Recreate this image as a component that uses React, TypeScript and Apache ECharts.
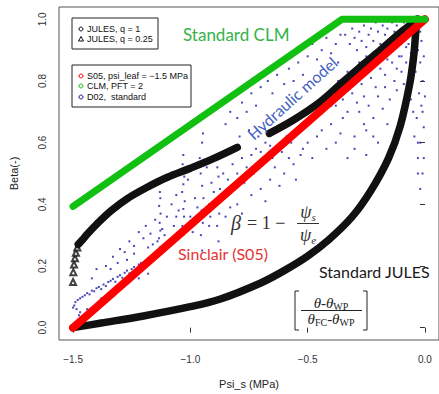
import React, { useEffect, useRef } from "react";
import * as echarts from "echarts";

// ---- axis ticks ----
const xTickValues = [-1.5, -1.0, -0.5, 0.0];
const xTickLabels = ["\u22121.5", "\u22121.0", "\u22120.5", "0.0"];
const yTickValues = [0, 0.2, 0.4, 0.6, 0.8, 1.0];
const yTickLabels = ["0.0", "0.2", "0.4", "0.6", "0.8", "1.0"];

// ---- series (Psi_s in MPa, Beta) ----
const julesQ1 = [
  [-1.5, 0], [-1.38, 0.015], [-1.2, 0.038], [-1.0, 0.068], [-0.875, 0.092],
  [-0.7, 0.145], [-0.6, 0.185], [-0.5, 0.232], [-0.41, 0.285], [-0.31, 0.36], [-0.23, 0.445],
  [-0.155, 0.55], [-0.105, 0.655], [-0.065, 0.79], [-0.048, 0.88], [-0.04, 0.95], [-0.035, 1.0],
];
const julesQ025 = [
  [-1.478, 0.27], [-1.46, 0.285], [-1.44, 0.303], [-1.4, 0.335], [-1.34, 0.378], [-1.27, 0.418], [-1.18, 0.457],
  [-1.1, 0.487], [-1.0, 0.517], [-0.9, 0.549], [-0.8, 0.585], [-0.73, null],
  [-0.663, 0.63], [-0.557, 0.675], [-0.45, 0.73], [-0.36, 0.79], [-0.275, 0.846],
  [-0.19, 0.9], [-0.107, 0.955], [-0.03, 1.0],
];
const julesQ025Start = [
  [-1.5, 0.148], [-1.499, 0.18], [-1.496, 0.205], [-1.492, 0.225], [-1.488, 0.243], [-1.482, 0.26],
];
const s05 = [[-1.5, 0], [0, 1]];
const clm = [[-1.5, 0.393], [-0.354, 1.0], [0, 1.0]];
const d02 = [
  [-1.5, 0.065], [-1.495, 0.072], [-1.49, 0.083], [-1.485, 0.06], [-1.48, 0.09], [-1.475, 0.04], [-1.47, 0.095],
  [-1.465, 0.025], [-1.46, 0.1], [-1.45, 0.105], [-1.44, 0.112], [-1.43, 0.108], [-1.42, 0.12], [-1.41, 0.118],
  [-1.4, 0.128], [-1.39, 0.132], [-1.38, 0.125], [-1.37, 0.14], [-1.36, 0.135], [-1.35, 0.148], [-1.34, 0.152],
  [-1.33, 0.158], [-1.32, 0.149], [-1.31, 0.165], [-1.3, 0.17], [-1.29, 0.162], [-1.28, 0.178], [-1.27, 0.185],
  [-1.26, 0.176], [-1.25, 0.19], [-1.24, 0.197], [-1.23, 0.188], [-1.22, 0.205], [-1.21, 0.21], [-1.2, 0.2],
  [-1.19, 0.218], [-1.18, 0.225], [-1.17, 0.215], [-1.16, 0.23], [-1.15, 0.238],
  [-1.47, 0.05], [-1.455, 0.035], [-1.44, 0.06], [-1.38, 0.095], [-1.33, 0.115], [-1.3, 0.13], [-1.26, 0.15],
  [-1.22, 0.16], [-1.18, 0.175],
  [-1.33, 0.23], [-1.3, 0.255], [-1.28, 0.245], [-1.26, 0.28], [-1.24, 0.265], [-1.22, 0.31], [-1.2, 0.29],
  [-1.19, 0.33], [-1.17, 0.305], [-1.15, 0.35], [-1.14, 0.28], [-1.12, 0.32], [-1.1, 0.36], [-1.09, 0.27], [-1.08, 0.4],
  [-1.13, 0.26], [-1.134, 0.29], [-1.128, 0.315], [-1.131, 0.34], [-1.127, 0.37], [-1.133, 0.395], [-1.128, 0.42], [-1.13, 0.44],
  [-1.03, 0.3], [-1.034, 0.33], [-1.027, 0.36], [-1.03, 0.385], [-1.024, 0.41], [-1.035, 0.44], [-1.03, 0.465],
  [-1.026, 0.49], [-1.033, 0.53], [-1.03, 0.56],
  [-0.95, 0.25], [-0.955, 0.3], [-0.947, 0.34], [-0.952, 0.38], [-0.944, 0.42], [-0.95, 0.46], [-0.956, 0.5], [-0.95, 0.6], [-0.946, 0.63],
  [-0.88, 0.28], [-0.886, 0.33], [-0.877, 0.37], [-0.883, 0.41], [-0.874, 0.45], [-0.88, 0.49], [-0.885, 0.52],
  [-1.05, 0.38], [-1.0, 0.36], [-0.98, 0.42], [-0.97, 0.39], [-0.92, 0.4], [-0.91, 0.47], [-0.9, 0.44], [-0.86, 0.5],
  [-0.84, 0.48], [-0.82, 0.53], [-0.8, 0.5], [-0.78, 0.55], [-0.76, 0.52], [-0.74, 0.56], [-0.72, 0.58], [-0.7, 0.57],
  [-0.68, 0.6], [-0.66, 0.59],
  [-0.92, 0.33], [-0.85, 0.36], [-0.8, 0.4], [-0.78, 0.37], [-0.74, 0.43], [-0.7, 0.45], [-0.68, 0.41], [-0.66, 0.48],
  [-0.64, 0.52], [-0.62, 0.46], [-0.6, 0.5], [-0.58, 0.55], [-0.56, 0.53], [-0.55, 0.48], [-0.52, 0.58], [-0.5, 0.6],
  [-0.48, 0.55], [-0.46, 0.62], [-0.44, 0.64], [-0.42, 0.58], [-0.4, 0.66], [-0.38, 0.6], [-0.36, 0.63], [-0.35, 0.68],
  [-0.33, 0.55], [-0.3, 0.62], [-0.3, 0.58], [-0.25, 0.64], [-0.03, 0.6],
  [-0.02, 0.45], [-0.01, 0.5], [-0.03, 0.55], [-0.02, 0.6], [-0.005, 0.65], [-0.035, 0.68], [-0.015, 0.72],
  [-0.025, 0.76], [-0.01, 0.8], [-0.04, 0.83], [-0.02, 0.86], [-0.005, 0.88], [-0.03, 0.9], [-0.015, 0.93],
  [-0.28, 0.7], [-0.26, 0.66], [-0.24, 0.72], [-0.22, 0.68], [-0.2, 0.75], [-0.18, 0.71], [-0.17, 0.78], [-0.15, 0.74],
  [-0.13, 0.8], [-0.12, 0.77], [-0.1, 0.83], [-0.09, 0.79], [-0.22, 0.62], [-0.2, 0.6], [-0.16, 0.66], [-0.25, 0.56],
  [-0.34, 0.95], [-0.32, 0.92], [-0.31, 0.97], [-0.3, 0.94], [-0.29, 0.9], [-0.28, 0.96], [-0.27, 0.93], [-0.26, 0.98],
  [-0.25, 0.91], [-0.24, 0.95], [-0.23, 0.97], [-0.22, 0.93], [-0.21, 0.99], [-0.2, 0.96], [-0.19, 0.92], [-0.18, 0.98],
  [-0.17, 0.95], [-0.16, 0.97], [-0.15, 0.93], [-0.14, 0.99], [-0.13, 0.96], [-0.12, 0.98], [-0.11, 0.94], [-0.1, 0.97],
  [-0.09, 0.99], [-0.08, 0.95], [-0.07, 0.98], [-0.06, 0.96], [-0.05, 0.99], [-0.04, 0.97], [-0.03, 0.98], [-0.02, 0.96],
  [-0.015, 0.99], [-0.25, 0.88], [-0.22, 0.86], [-0.19, 0.89], [-0.16, 0.87], [-0.14, 0.9], [-0.11, 0.88], [-0.08, 0.91],
  [-0.06, 0.89], [-0.04, 0.93],
  [-0.5, 0.88], [-0.48, 0.92], [-0.46, 0.87], [-0.44, 0.9], [-0.42, 0.94], [-0.4, 0.89], [-0.38, 0.92], [-0.37, 0.86], [-0.36, 0.95],
  [-0.85, 0.66], [-0.83, 0.7], [-0.8, 0.68], [-0.78, 0.73], [-0.76, 0.7], [-0.74, 0.76], [-0.72, 0.72], [-0.7, 0.78],
  [-0.67, 0.8], [-0.65, 0.76], [-0.63, 0.82], [-0.6, 0.79], [-0.58, 0.84], [-0.56, 0.8], [-0.54, 0.86], [-0.52, 0.82],
  [-0.38, 0.72], [-0.35, 0.74], [-0.33, 0.7], [-0.31, 0.76], [-0.29, 0.73], [-0.27, 0.79], [-0.26, 0.75], [-0.23, 0.81],
  [-0.21, 0.78], [-0.19, 0.84], [-0.17, 0.82], [-0.14, 0.86], [-0.12, 0.84], [-0.1, 0.88], [-0.08, 0.86], [-0.07, 0.92], [-0.05, 0.94],
  [-0.45, 0.7], [-0.42, 0.75], [-0.4, 0.72], [-0.37, 0.8], [-0.33, 0.83], [-0.3, 0.8], [-0.28, 0.86], [-0.24, 0.84], [-0.2, 0.9], [-0.18, 0.87],
  [-1.06, 0.43], [-1.01, 0.48], [-0.99, 0.31], [-0.96, 0.55], [-0.93, 0.52], [-0.915, 0.36], [-0.87, 0.43], [-0.855, 0.56],
  [-0.83, 0.39], [-0.81, 0.45], [-0.79, 0.62], [-0.77, 0.47], [-0.75, 0.64], [-0.73, 0.5], [-0.71, 0.62], [-0.69, 0.53],
  [-0.65, 0.55], [-0.63, 0.65], [-0.61, 0.57], [-0.59, 0.62], [-0.57, 0.6], [-0.54, 0.63], [-0.53, 0.56], [-0.51, 0.65], [-0.49, 0.68],
  [-1.42, 0.16], [-1.4, 0.19], [-1.36, 0.2], [-1.34, 0.19], [-1.31, 0.21], [-1.27, 0.22], [-1.24, 0.24], [-1.18, 0.26],
  [-1.16, 0.27], [-1.11, 0.3], [-1.07, 0.33], [-1.06, 0.36],
  [-0.05, 0.7], [-0.06, 0.74], [-0.045, 0.62], [-0.01, 0.7], [-0.03, 0.5], [-0.005, 0.55], [0.0, 0.75], [-0.055, 0.85], [-0.045, 0.89],
];

const legendTop = ["JULES, q = 1", "JULES, q = 0.25"];
const legendBottom = ["S05, psi_leaf = \u22121.5 MPa", "CLM, PFT = 2", "D02,  standard"];

const AXIS_FONT = "Liberation Sans, Arial, sans-serif";
const NOTE_FONT = "Lato, 'Open Sans', sans-serif";
const MATH_FONT = "'Liberation Serif', 'DejaVu Serif', serif";

function pick(values: number[], labels: string[], v: number) {
  for (let i = 0; i < values.length; i++) if (Math.abs(values[i] - v) < 1e-9) return labels[i];
  return "";
}

export default function App() {
  const ref = useRef<HTMLDivElement>(null);
  useEffect(() => {
    if (!ref.current) return;
    const chart = echarts.init(ref.current, undefined, { renderer: "svg" });
    const option: any = {
      animation: false,
      backgroundColor: "#ffffff",
      grid: { left: 58, top: 7, right: -2, bottom: 53, show: true, borderColor: "#555", borderWidth: 1, backgroundColor: "transparent" },
      xAxis: {
        type: "value", min: -1.56, max: 0.06,
        name: "Psi_s (MPa)", nameLocation: "middle", nameGap: 38,
        nameTextStyle: { fontFamily: AXIS_FONT, fontSize: 11, color: "#222" },
        axisLine: { show: false }, splitLine: { show: false },
        axisTick: { show: true, length: 5, customValues: xTickValues, lineStyle: { color: "#333" } },
        axisLabel: { customValues: xTickValues, margin: 14, fontFamily: AXIS_FONT, fontSize: 10, color: "#333",
          formatter: (v: number) => pick(xTickValues, xTickLabels, v) },
      },
      yAxis: {
        type: "value", min: -0.04, max: 1.04,
        name: "Beta(-)", nameLocation: "middle", nameGap: 40,
        nameTextStyle: { fontFamily: AXIS_FONT, fontSize: 11, color: "#222" },
        axisLine: { show: false }, splitLine: { show: false },
        axisTick: { show: true, length: 5, customValues: yTickValues, lineStyle: { color: "#333" } },
        axisLabel: { customValues: yTickValues, rotate: 90, margin: 12, fontFamily: AXIS_FONT, fontSize: 10, color: "#333",
          formatter: (v: number) => pick(yTickValues, yTickLabels, v) },
      },
      series: [
        { name: legendTop[0], type: "line", data: julesQ1, showSymbol: false, symbol: "none", smooth: 0.35,
          lineStyle: { color: "#111", width: 7.5, cap: "round", join: "round" } },
        { name: legendTop[1], type: "line", data: julesQ025, showSymbol: false, symbol: "none", connectNulls: false, smooth: 0.35,
          lineStyle: { color: "#111", width: 7.5, cap: "round", join: "round" } },
        { name: legendTop[1] + " start", type: "scatter", data: julesQ025Start, symbol: "emptyTriangle", symbolSize: 6,
          itemStyle: { color: "#111", borderWidth: 1.2 } },
        { name: legendBottom[0], type: "line", data: s05, showSymbol: false, symbol: "none",
          lineStyle: { color: "#ff0000", width: 8, cap: "round" } },
        { name: legendBottom[1], type: "line", data: clm, showSymbol: false, symbol: "none",
          lineStyle: { color: "#11c011", width: 7, cap: "round", join: "round" } },
        { name: legendBottom[2], type: "scatter", data: d02, symbol: "rect", symbolSize: 2,
          itemStyle: { color: "#1a1aa8" } },
      ],
      graphic: [
        // legend box 1
        { type: "rect", shape: { x: 72, y: 18, width: 86, height: 31 }, style: { fill: "#fff", stroke: "#222", lineWidth: 1 }, z: 100 },
        { type: "circle", shape: { cx: 81, cy: 29, r: 2 }, style: { fill: "none", stroke: "#111", lineWidth: 1 }, z: 101 },
        { type: "polygon", shape: { points: [[81, 36.5], [78.5, 41], [83.5, 41]] }, style: { fill: "none", stroke: "#111", lineWidth: 1 }, z: 101 },
        { type: "text", x: 87, y: 29, style: { text: legendTop[0], fontFamily: AXIS_FONT, fontSize: 9, fill: "#111", verticalAlign: "middle" }, z: 101 },
        { type: "text", x: 87, y: 39, style: { text: legendTop[1], fontFamily: AXIS_FONT, fontSize: 9, fill: "#111", verticalAlign: "middle" }, z: 101 },
        // legend box 2
        { type: "rect", shape: { x: 72, y: 65, width: 119, height: 42 }, style: { fill: "#fff", stroke: "#222", lineWidth: 1 }, z: 100 },
        { type: "circle", shape: { cx: 81, cy: 76, r: 2 }, style: { fill: "none", stroke: "#ff0000", lineWidth: 1 }, z: 101 },
        { type: "circle", shape: { cx: 81, cy: 86, r: 2 }, style: { fill: "none", stroke: "#11c011", lineWidth: 1 }, z: 101 },
        { type: "circle", shape: { cx: 81, cy: 97, r: 2 }, style: { fill: "none", stroke: "#1a1aa8", lineWidth: 1 }, z: 101 },
        { type: "text", x: 87, y: 76, style: { text: legendBottom[0], fontFamily: AXIS_FONT, fontSize: 9, fill: "#111", verticalAlign: "middle" }, z: 101 },
        { type: "text", x: 87, y: 86, style: { text: legendBottom[1], fontFamily: AXIS_FONT, fontSize: 9, fill: "#111", verticalAlign: "middle" }, z: 101 },
        { type: "text", x: 87, y: 97, style: { text: legendBottom[2], fontFamily: AXIS_FONT, fontSize: 9, fill: "#111", verticalAlign: "middle" }, z: 101 },
        // annotations
        { type: "text", x: 183, y: 34, style: { text: "Standard CLM", fontFamily: NOTE_FONT, fontSize: 17, fill: "#35b34a", verticalAlign: "middle" }, z: 101 },
        { type: "text", x: 292, y: 98, rotation: 42 * Math.PI / 180,
          style: { text: "Hydraulic model", fontFamily: NOTE_FONT, fontSize: 16, fill: "#4561c2", align: "center", verticalAlign: "middle" }, z: 101 },
        { type: "text", x: 178, y: 253, style: { text: "Sinclair (S05)", fontFamily: NOTE_FONT, fontSize: 16, fill: "#e83232", verticalAlign: "middle" }, z: 101 },
        { type: "text", x: 319, y: 271, style: { text: "Standard JULES", fontFamily: NOTE_FONT, fontSize: 16, fill: "#1a1a1a", verticalAlign: "middle" }, z: 101 },
        // beta formula
        { type: "text", x: 231, y: 223, style: { text: "\u03b2", fontFamily: MATH_FONT, fontStyle: "italic", fontSize: 20, fill: "#333", verticalAlign: "middle" }, z: 101 },
        { type: "text", x: 247, y: 223, style: { text: "= 1 \u2212", fontFamily: MATH_FONT, fontSize: 18, fill: "#333", verticalAlign: "middle" }, z: 101 },
        { type: "text", x: 308, y: 212, style: { text: "{a|\u03c8}{s|s}", align: "center", verticalAlign: "middle", fill: "#333",
          rich: { a: { fontFamily: MATH_FONT, fontStyle: "italic", fontSize: 18, lineHeight: 20, verticalAlign: "middle" },
                  s: { fontFamily: MATH_FONT, fontStyle: "italic", fontSize: 11, lineHeight: 11, verticalAlign: "bottom" } } }, z: 101 },
        { type: "line", shape: { x1: 297, y1: 223.5, x2: 319, y2: 223.5 }, style: { stroke: "#333", lineWidth: 1 }, z: 101 },
        { type: "text", x: 308, y: 235, style: { text: "{a|\u03c8}{s|e}", align: "center", verticalAlign: "middle", fill: "#333",
          rich: { a: { fontFamily: MATH_FONT, fontStyle: "italic", fontSize: 18, lineHeight: 20, verticalAlign: "middle" },
                  s: { fontFamily: MATH_FONT, fontStyle: "italic", fontSize: 11, lineHeight: 11, verticalAlign: "bottom" } } }, z: 101 },
        // theta fraction
        { type: "polyline", shape: { points: [[299, 291], [295, 291], [295, 330], [299, 330]] }, style: { stroke: "#222", lineWidth: 1, fill: "none" }, z: 101 },
        { type: "polyline", shape: { points: [[363, 291], [367, 291], [367, 330], [363, 330]] }, style: { stroke: "#222", lineWidth: 1, fill: "none" }, z: 101 },
        { type: "text", x: 331, y: 303, style: { text: "{a|\u03b8}{n|-}{a|\u03b8}{s|WP}", align: "center", verticalAlign: "middle", fill: "#222",
          rich: { a: { fontFamily: MATH_FONT, fontStyle: "italic", fontSize: 15, lineHeight: 16, verticalAlign: "middle" },
                  n: { fontFamily: MATH_FONT, fontSize: 15, lineHeight: 16, verticalAlign: "middle" },
                  s: { fontFamily: MATH_FONT, fontSize: 10, lineHeight: 10, verticalAlign: "bottom" } } }, z: 101 },
        { type: "line", shape: { x1: 301, y1: 310.5, x2: 362, y2: 310.5 }, style: { stroke: "#222", lineWidth: 1 }, z: 101 },
        { type: "text", x: 331, y: 319, style: { text: "{a|\u03b8}{s|FC}{n|-}{a|\u03b8}{s|WP}", align: "center", verticalAlign: "middle", fill: "#222",
          rich: { a: { fontFamily: MATH_FONT, fontStyle: "italic", fontSize: 15, lineHeight: 16, verticalAlign: "middle" },
                  n: { fontFamily: MATH_FONT, fontSize: 15, lineHeight: 16, verticalAlign: "middle" },
                  s: { fontFamily: MATH_FONT, fontSize: 10, lineHeight: 10, verticalAlign: "bottom" } } }, z: 101 },
      ],
    };
    chart.setOption(option);
    return () => chart.dispose();
  }, []);
  return <div ref={ref} style={{ position: "fixed", left: 0, top: 0, width: 439, height: 394 }} />;
}
